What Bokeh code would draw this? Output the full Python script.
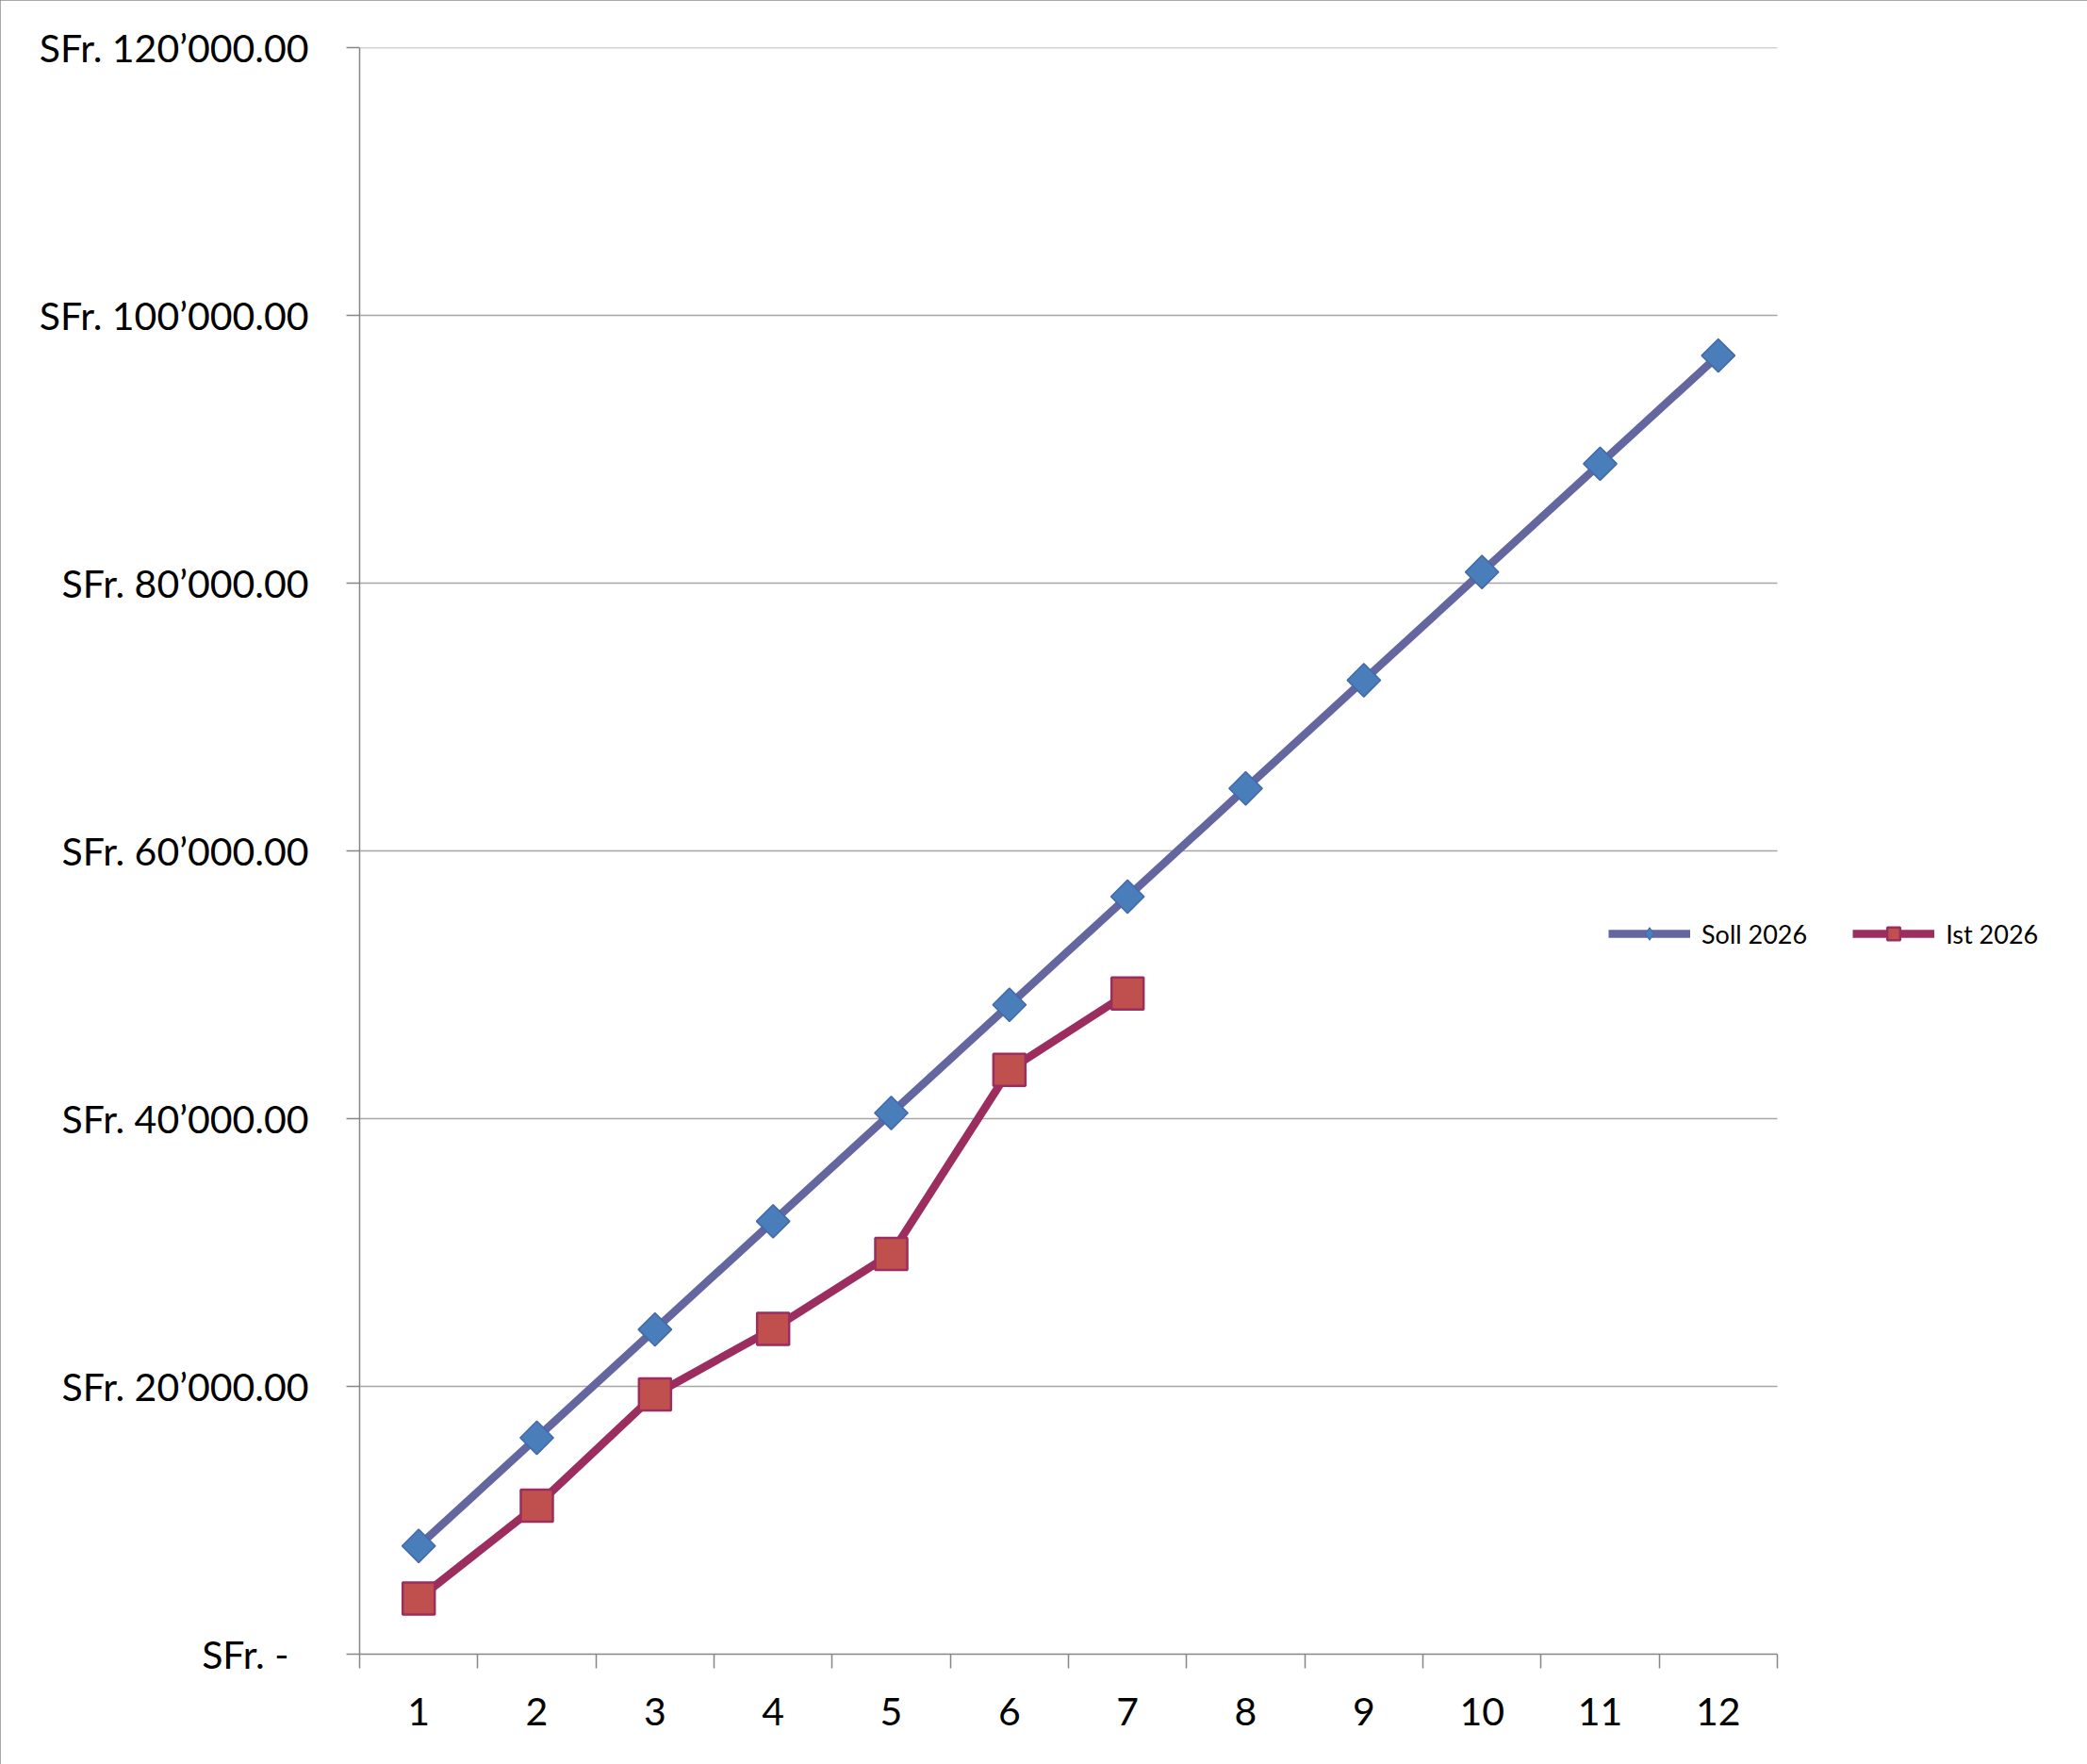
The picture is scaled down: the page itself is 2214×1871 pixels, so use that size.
import numpy as np
from bokeh.plotting import figure
from bokeh.models import Range1d, FixedTicker, Legend, LegendItem, ColumnDataSource
from bokeh.embed import file_html
from bokeh.resources import INLINE

# ---- data ----
months = [1, 2, 3, 4, 5, 6, 7, 8, 9, 10, 11, 12]
soll_2026 = [8083, 16167, 24250, 32333, 40417, 48500, 56583, 64667, 72750, 80833, 88917, 97000]
ist_months = [1, 2, 3, 4, 5, 6, 7]
ist_2026 = [4150, 11100, 19400, 24300, 29900, 43650, 49350]
y_ticks = [0, 20000, 40000, 60000, 80000, 100000, 120000]
y_tick_labels = ["SFr. -\u00a0\u00a0", "SFr. 20\u2019000.00", "SFr. 40\u2019000.00",
                 "SFr. 60\u2019000.00", "SFr. 80\u2019000.00", "SFr. 100\u2019000.00",
                 "SFr. 120\u2019000.00"]
x_tick_labels = [str(m) for m in months]

FONT = "Lato"
W, H = 2214, 1871
L, T = 381, 50            # frame left / top
AXIS_RIGHT = 1885         # right end of the category axis (px)
FRAME_RIGHT = 2190        # frame extended so the legend is not clipped
BOTTOM = 1754
x_start, x_end_axis = 0.5, 12.5
px_per_unit = (AXIS_RIGHT - L) / (x_end_axis - x_start)
x_end = x_start + (FRAME_RIGHT - L) / px_per_unit

p = figure(width=W, height=H, output_backend="svg", toolbar_location=None,
           x_range=Range1d(x_start, x_end), y_range=Range1d(0, 120000),
           min_border_left=L, min_border_right=W - FRAME_RIGHT,
           min_border_top=T, min_border_bottom=H - BOTTOM)
p.outline_line_color = None
p.background_fill_color = "white"
p.border_fill_color = "white"
p.styles = {"outline": "2px solid #8c8c8c", "outline-offset": "-2px"}

# x axis
p.xaxis.bounds = (x_start, x_end_axis)
p.xaxis.ticker = FixedTicker(ticks=months, minor_ticks=[m - 0.5 for m in months] + [12.5])
p.xaxis.major_label_overrides = {m: s for m, s in zip(months, x_tick_labels)}
p.xaxis.major_tick_out = 0
p.xaxis.major_tick_in = 0
p.xaxis.minor_tick_out = 15
p.xaxis.minor_tick_in = 0
p.xaxis.minor_tick_line_color = "#868686"
p.xaxis.minor_tick_line_width = 1.5
p.xaxis.axis_line_color = "#868686"
p.xaxis.axis_line_width = 1.5
p.xaxis.major_label_standoff = 31
p.xaxis.major_label_text_font = FONT
p.xaxis.major_label_text_font_size = "41px"
p.xaxis.major_label_text_color = "black"

# y axis
p.yaxis.ticker = FixedTicker(ticks=y_ticks, minor_ticks=[])
p.yaxis.major_label_overrides = {t: s for t, s in zip(y_ticks, y_tick_labels)}
p.yaxis.major_tick_out = 14
p.yaxis.major_tick_in = 0
p.yaxis.minor_tick_out = 0
p.yaxis.minor_tick_in = 0
p.yaxis.major_tick_line_color = "#868686"
p.yaxis.major_tick_line_width = 1.5
p.yaxis.axis_line_color = "#868686"
p.yaxis.axis_line_width = 1.5
p.yaxis.major_label_standoff = 40
p.yaxis.major_label_text_font = FONT
p.yaxis.major_label_text_font_size = "41px"
p.yaxis.major_label_text_color = "black"

# horizontal gridlines, limited to the category axis extent
p.xgrid.grid_line_color = None
p.ygrid.grid_line_color = None
grid_y = y_ticks[1:]
p.segment(x0=[x_start] * len(grid_y), y0=grid_y, x1=[x_end_axis] * len(grid_y), y1=grid_y,
          line_color="#a6a6a6", line_width=1.5)

# series
soll_src = ColumnDataSource(data=dict(x=months, y=soll_2026))
soll_line = p.line("x", "y", source=soll_src, line_color="#6466a0", line_width=8.5, line_join="round")
# small diamond used for the legend glyph; fully hidden under the plotted markers
soll_legend_marker = p.scatter("x", "y", source=soll_src, marker="diamond", size=16,
                               fill_color="#4a7ebb", line_color="#4269a8", line_width=1)
soll_pts = p.scatter("x", "y", source=soll_src, marker="square", angle=np.pi / 4, size=25,
                     fill_color="#4a7ebb", line_color="#4269a8", line_width=1.5)
ist_line = p.line(ist_months, ist_2026, line_color="#9b2d5f", line_width=8.5, line_join="round")
ist_pts = p.scatter(ist_months, ist_2026, marker="square", size=34,
                    fill_color="#c0504d", line_color="#9b2d5f", line_width=2.5)

legend = Legend(items=[LegendItem(label="Soll 2026", renderers=[soll_line, soll_legend_marker]),
                       LegendItem(label="Ist 2026", renderers=[ist_line, ist_pts])],
                orientation="horizontal", location=(1325, 747),
                glyph_width=87, glyph_height=34, label_standoff=12, spacing=48,
                padding=0, margin=0, border_line_color=None, background_fill_alpha=0,
                label_text_font=FONT, label_text_font_size="27px", label_text_color="black")
p.add_layout(legend, "center")

open("out.html", "w").write(file_html(p, INLINE))
